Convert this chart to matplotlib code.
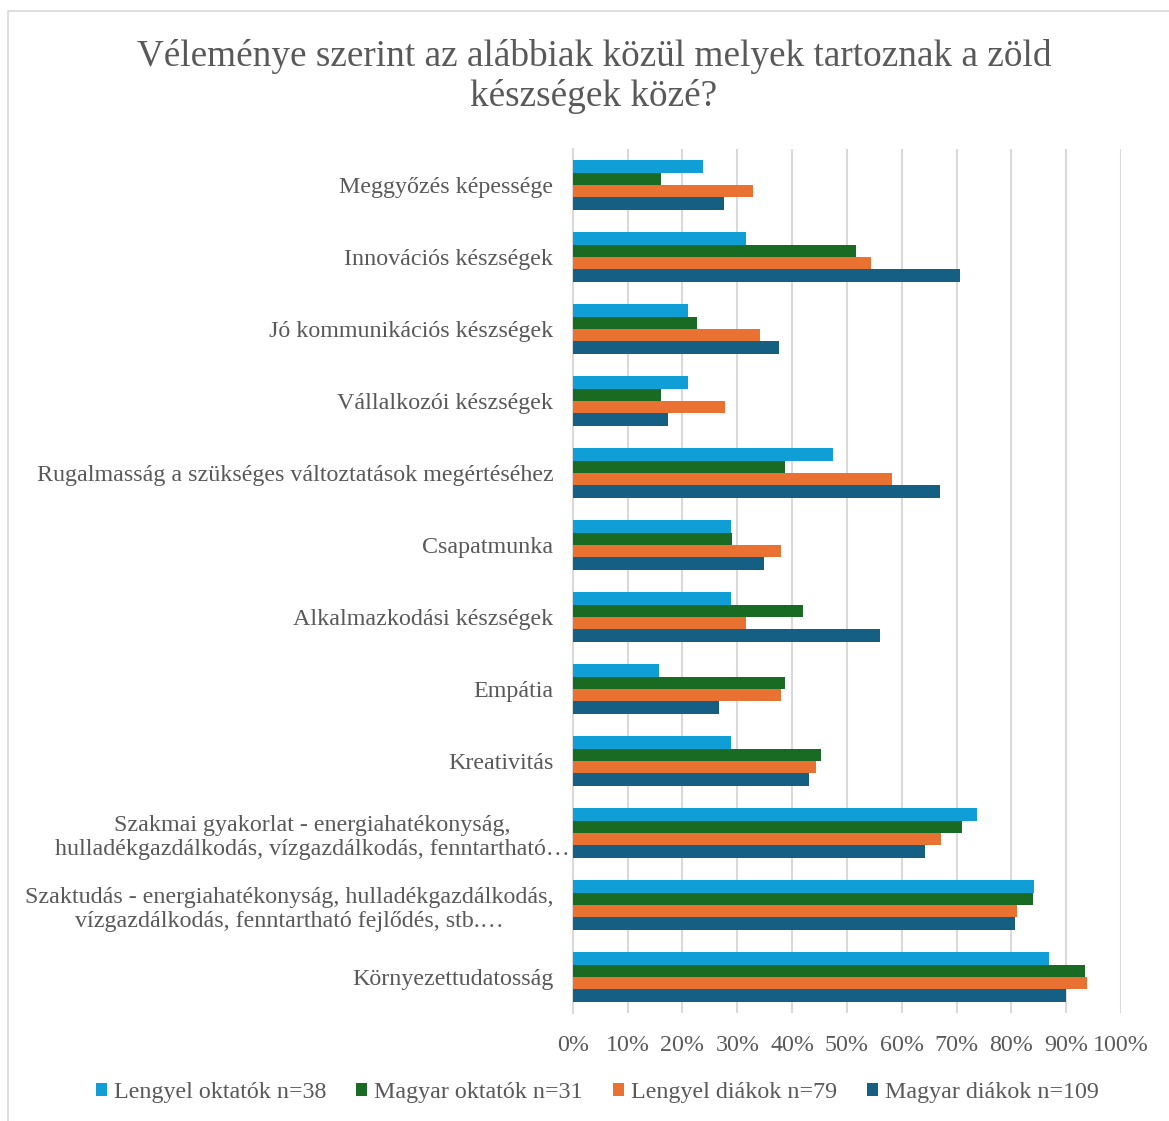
import matplotlib.pyplot as plt
import matplotlib.transforms as mtransforms
import numpy as np
from matplotlib.patches import Rectangle

# categories, top to bottom as shown
categories = [
    "Meggyőzés képessége",
    "Innovációs készségek",
    "Jó kommunikációs készségek",
    "Vállalkozói készségek",
    "Rugalmasság a szükséges változtatások megértéséhez",
    "Csapatmunka",
    "Alkalmazkodási készségek",
    "Empátia",
    "Kreativitás",
    "Szakmai gyakorlat - energiahatékonyság,\nhulladékgazdálkodás, vízgazdálkodás, fenntartható…",
    "Szaktudás - energiahatékonyság, hulladékgazdálkodás,\nvízgazdálkodás, fenntartható fejlődés, stb.…",
    "Környezettudatosság",
]

lengyel_oktatok = [23.7, 31.6, 21.1, 21.1, 47.4, 28.9, 28.9, 15.8, 28.9, 73.7, 84.2, 86.8]
magyar_oktatok = [16.1, 51.6, 22.6, 16.1, 38.7, 29.0, 41.9, 38.7, 45.2, 71.0, 83.9, 93.5]
lengyel_diakok = [32.9, 54.4, 34.2, 27.8, 58.2, 38.0, 31.6, 38.0, 44.3, 67.1, 81.0, 93.7]
magyar_diakok = [27.5, 70.6, 37.6, 17.4, 67.0, 34.9, 56.0, 26.6, 43.1, 64.2, 80.7, 89.9]

series = [
    ("Lengyel oktatók n=38", lengyel_oktatok, "#0F9ED5"),
    ("Magyar oktatók n=31", magyar_oktatok, "#196B24"),
    ("Lengyel diákok n=79", lengyel_diakok, "#E97132"),
    ("Magyar diákok n=109", magyar_diakok, "#156082"),
]

plt.rcParams["font.family"] = ["Liberation Serif", "DejaVu Serif"]

fig = plt.figure(figsize=(11.69, 11.21), dpi=100)
ax = fig.add_axes([0.490, 0.0963, 0.469, 0.7707])

y = np.arange(len(categories))
h = 0.172
for i, (name, vals, col) in enumerate(series):
    ax.barh(y + (i - 1.5) * h, vals, height=h, color=col, label=name, zorder=3)

ax.set_ylim(len(categories) - 0.5, -0.5)
ax.set_xlim(0, 100)
ax.set_xticks(np.arange(0, 101, 10))
ax.set_xticklabels([f"{v}%" for v in range(0, 101, 10)])
ax.set_yticks(y)
ax.set_yticklabels(categories, multialignment="center")
ax.tick_params(axis="both", length=0, labelsize=17.3, colors="#595959", pad=14)
ax.tick_params(axis="x", pad=16)
ax.xaxis.grid(True, color="#D9D9D9", linewidth=1.5, zorder=0)
for s in ["top", "right", "bottom"]:
    ax.spines[s].set_visible(False)
ax.spines["left"].set_color("#D9D9D9")
ax.spines["left"].set_linewidth(1.5)

# the truncated label sits closer to the axis in the original
lbl = ax.get_yticklabels()[9]
lbl.set_transform(lbl.get_transform() + mtransforms.ScaledTranslation(0.16, 0, fig.dpi_scale_trans))

fig.text(0.508, 0.932, "Véleménye szerint az alábbiak közül melyek tartoznak a zöld\nkészségek közé?",
         ha="center", va="center", fontsize=26.8, color="#595959", linespacing=1.2)

fig.legend(loc="center", bbox_to_anchor=(0.511, 0.025), ncol=4, frameon=False,
           fontsize=17.3, handlelength=0.45, handleheight=0.45, handletextpad=0.3,
           columnspacing=1.25, labelcolor="#595959")

fig.patches.append(Rectangle((0.007, -0.01), 1.0, 1.0, transform=fig.transFigure,
                             fill=False, edgecolor="#D9D9D9", linewidth=1.2))

plt.savefig("out.png", dpi=100)
